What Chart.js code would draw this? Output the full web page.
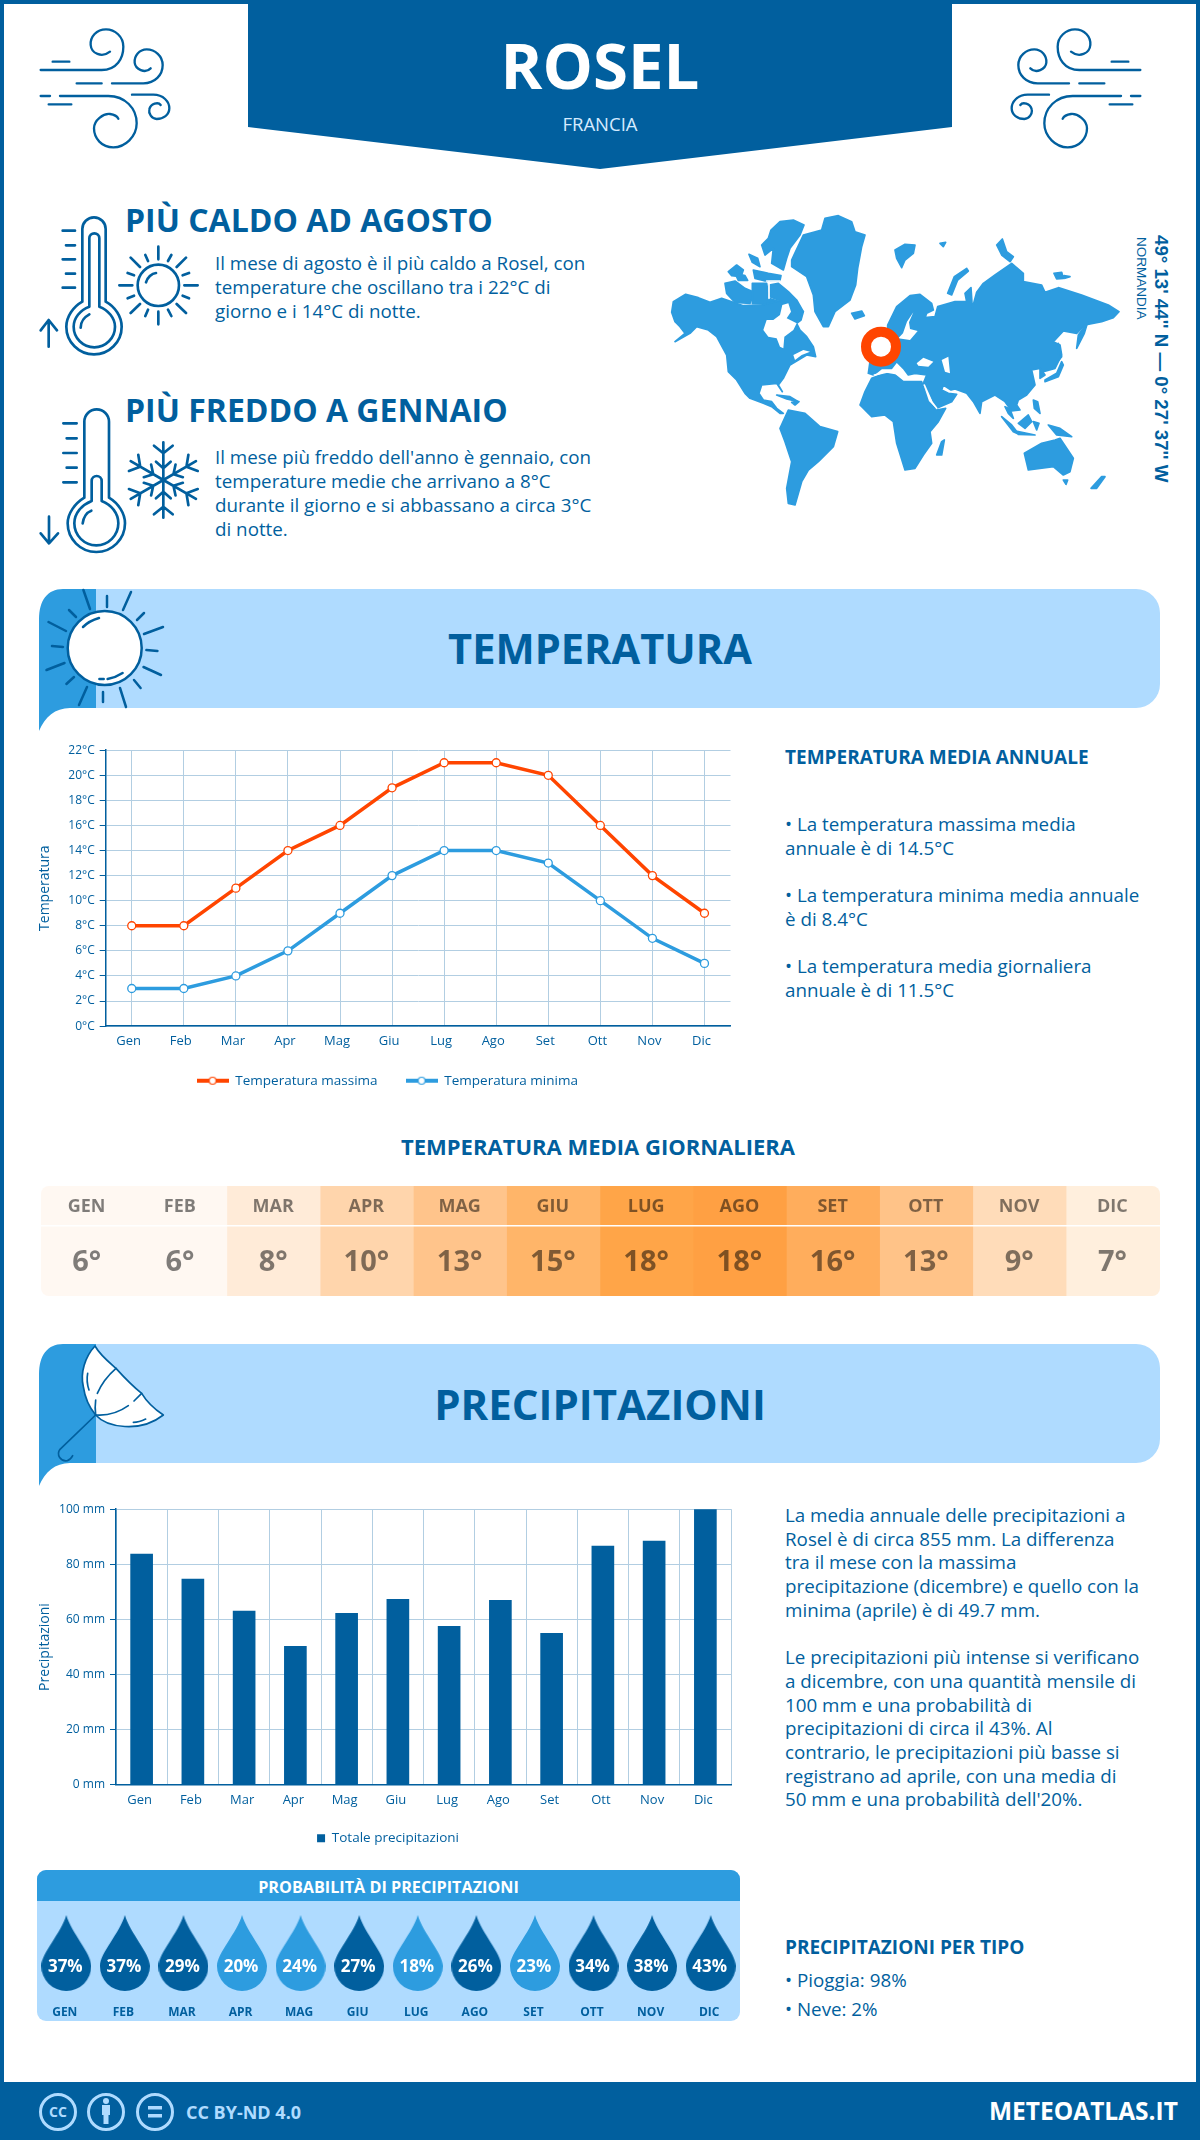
<!DOCTYPE html>
<html>
<head>
<meta charset="utf-8">
<title>Rosel</title>
<script src="https://cdn.jsdelivr.net/npm/chart.js@4"></script>
<style>
html, body { margin: 0; padding: 0; background: #fff; }
#page { position: relative; width: 1200px; height: 2140px; overflow: hidden; background: #fff; font-family: 'Open Sans', sans-serif; color: #015f9e; }
#frame { position: absolute; left: 0; top: 0; width: 1192px; height: 2132px; border: 4px solid #015f9e; }
.t { position: absolute; white-space: nowrap; }
.b { font-weight: 700; }
.c { transform: translateX(-50%); }
.p { position: absolute; left: 785px; font-size: 18.8px; line-height: 24px; white-space: nowrap; }
svg { position: absolute; overflow: visible; }
canvas { position: absolute; }
.line { fill: none; stroke: #015f9e; stroke-linecap: round; stroke-linejoin: round; }
</style>
</head>
<body>
<div id="page">
<div id="frame"></div>

<!-- header -->
<svg style="left:0;top:0" width="1200" height="180"><path d="M248,0 H952 V127 L600,169 L248,127 Z" fill="#015f9e"/></svg>
<div class="t b c" style="left:600px;top:20px;font-size:63.5px;line-height:90px;color:#fff">ROSEL</div>
<div class="t c" style="left:600px;top:110px;font-size:18.5px;line-height:28px;color:#d5ebff">FRANCIA</div>

<svg style="left:30px;top:20px" width="150" height="140" viewBox="0 0 450 420"><g id="wind" class="line" stroke-width="7">
<path d="M32,150 H215 C260,150 280,115 280,80 C280,50 255,28 228,28 C200,28 180,50 182,75 C184,100 215,115 240,95"/>
<path d="M68,125 H118 M140,190 H215"/>
<path d="M246,190 H340 C375,190 398,165 398,135 C398,108 375,88 350,88 C328,88 312,108 314,128 C316,148 345,162 362,145"/>
<path d="M32,228 H60 M56,253 H124"/>
<path d="M90,228 H235 C285,228 320,265 320,310 C320,350 285,382 250,382 C215,382 192,355 192,325 C192,300 220,280 240,282 C255,284 262,290 265,296"/>
<path d="M306,224 H370 C400,224 418,245 418,265 C418,285 400,297 380,297 C365,297 355,280 358,268 C362,250 385,245 392,255"/>
</g></svg>
<svg style="left:1001px;top:20px;transform:scaleX(-1)" width="150" height="140" viewBox="0 0 450 420"><use href="#wind"/></svg>

<!-- thermometers and small icons -->
<svg style="left:30px;top:205px" width="180" height="360" viewBox="0 0 540 1080"><g class="line" stroke-width="8">
<path d="M157,290 V72 A35,35 0 0 1 227,72 V290 C255,305 275,335 275,365 A83,83 0 1 1 109,365 C109,335 130,305 157,290 Z"/>
<path d="M178,305 V100 A15,15 0 0 1 208,100 V305 C235,315 255,340 255,365 A62,62 0 1 1 131,365 C131,340 150,315 178,305 Z"/>
<path d="M152,368 C152,350 165,335 178,328"/>
<path d="M98,77 H135 M108,121 H135 M98,163 H135 M108,206 H135 M98,248 H135"/>
<path d="M56,425 V345 M32,376 L56,345 L81,376"/>
<circle cx="385" cy="241" r="62"/>
<path d="M348,232 C352,218 365,205 378,204"/>
<path d="M385,125 V163 M385,320 V358 M268,241 H307 M463,241 H503 M302,158 L330,186 M468,158 L440,186 M302,324 L330,297 M468,324 L440,297"/>
<path d="M346,150 L354,168 M424,150 L414,168 M293,204 L312,211 M477,204 L458,211 M293,280 L312,272 M477,280 L458,272 M346,333 L354,314 M424,333 L414,314"/>
<path d="M163,878 V650 A37,37 0 0 1 237,650 V878 C265,895 285,925 285,955 A86,86 0 1 1 113,955 C113,925 135,895 163,878 Z"/>
<path d="M185,888 V828 A15,15 0 0 1 215,828 V888 C245,900 265,925 265,955 A66,66 0 1 1 133,955 C133,925 155,900 185,888 Z"/>
<path d="M158,955 C160,938 170,922 184,917"/>
<path d="M100,655 H140 M110,700 H140 M100,744 H140 M110,788 H140 M100,832 H140"/>
<path d="M57,935 V1015 M32,985 L57,1015 L84,985"/>
<g id="arm"><path d="M400,825 V712 M372,722 L400,745 L428,722 M378,770 L400,790 L422,770"/></g>
<use href="#arm" transform="rotate(60 400 825)"/><use href="#arm" transform="rotate(120 400 825)"/><use href="#arm" transform="rotate(180 400 825)"/><use href="#arm" transform="rotate(240 400 825)"/><use href="#arm" transform="rotate(300 400 825)"/>
</g></svg>

<div class="t b" style="left:125px;top:199px;font-size:32px;line-height:42px">PIÙ CALDO AD AGOSTO</div>
<div class="t" style="left:215px;top:251px;font-size:18.8px;line-height:24px">Il mese di agosto è il più caldo a Rosel, con<br>temperature che oscillano tra i 22°C di<br>giorno e i 14°C di notte.</div>
<div class="t b" style="left:125px;top:389px;font-size:32px;line-height:42px">PIÙ FREDDO A GENNAIO</div>
<div class="t" style="left:215px;top:445px;font-size:18.8px;line-height:24px">Il mese più freddo dell'anno è gennaio, con<br>temperature medie che arrivano a 8°C<br>durante il giorno e si abbassano a circa 3°C<br>di notte.</div>

<!-- world map -->
<svg style="left:665px;top:205px" width="460" height="310" viewBox="0 0 1380 930">
<g fill="#2d9cdf" stroke="#2d9cdf" stroke-width="5" stroke-linejoin="round">
<path d="M20,322 25,290 62,268 100,278 135,292 170,280 205,292 235,302 290,300 330,290 375,285 415,320 408,345 395,355 405,375 425,395 445,425 452,455 425,450 395,468 375,480 355,520 340,540 352,560 335,535 290,540 282,565 295,585 320,590 335,610 355,625 345,625 320,605 295,595 255,580 240,565 215,525 190,500 185,450 155,395 130,375 95,365 75,385 30,410 60,385 45,365 30,350 Z"/>
<path d="M312,240 340,235 370,260 395,285 415,320 400,332 370,298 340,285 315,275 Z"/>
<path d="M180,235 210,228 240,250 268,262 255,295 210,292 185,265 Z"/>
<path d="M262,235 305,235 312,280 338,288 300,298 262,296 Z"/>
<path d="M265,195 310,205 348,212 345,226 300,228 270,220 Z"/>
<path d="M290,120 310,100 318,75 345,50 385,45 417,60 405,90 375,130 365,160 355,195 320,175 325,130 300,150 Z"/>
<path d="M190,200 215,180 235,195 228,215 200,212 Z M252,148 278,160 285,185 262,172 Z M210,205 240,212 248,226 220,226 Z"/>
<path d="M380,165 415,90 470,75 480,40 520,32 560,50 570,80 600,90 590,125 578,190 572,240 555,285 510,320 490,365 475,365 450,320 445,270 425,215 380,185 Z"/>
<path d="M560,325 590,318 598,332 570,342 Z M690,135 720,118 750,120 745,145 720,165 710,188 695,160 Z M825,115 842,112 835,125 Z M995,120 1012,102 1025,140 1045,155 1035,170 1010,150 Z M1167,205 1190,202 1195,220 1175,222 Z M1197,212 1215,215 1200,220 Z"/>
<path d="M848,265 868,215 905,190 910,198 878,225 860,270 Z"/>
<path d="M668,360 695,305 735,272 765,268 800,295 805,315 785,325 780,338 810,335 818,305 870,290 905,290 900,265 918,248 922,310 935,262 955,235 990,210 1040,175 1075,205 1075,230 1130,240 1140,262 1180,248 1250,270 1290,285 1330,300 1362,320 1345,338 1310,350 1260,360 1235,385 1195,378 1165,410 1185,420 1190,450 1170,490 1135,500 1125,490 1100,495 1110,540 1085,570 1060,585 1055,600 1065,615 1040,618 1020,590 990,570 950,590 945,625 925,590 905,565 870,552 858,555 835,540 830,555 850,565 875,568 860,590 815,610 800,580 775,535 785,510 750,505 730,510 715,490 695,470 680,490 650,490 625,510 610,505 615,470 640,420 668,400 Z"/>
<path d="M1235,430 1240,390 1268,352 1258,385 Z M1140,525 1175,505 1190,470 1195,480 1180,515 1140,530 Z M1180,415 1190,455 1182,465 Z M1125,490 1140,510 1125,520 Z"/>
<path d="M1020,605 1035,612 1045,640 1030,625 Z M1010,635 1040,660 1062,688 1045,680 Z M1050,678 1110,690 1060,688 Z M1060,655 1090,630 1100,650 1080,670 Z M1105,650 1122,655 1115,675 Z M1105,585 1118,590 1125,625 1108,610 Z M1150,660 1185,670 1220,695 1175,690 Z"/>
<path d="M585,600 600,560 620,520 660,505 690,510 715,530 770,530 790,590 815,615 842,610 820,650 795,680 800,715 775,750 750,790 720,795 695,715 685,650 660,630 620,635 Z"/>
<path d="M815,750 830,710 838,705 830,750 Z"/>
<path d="M345,670 370,615 420,625 465,665 518,680 505,725 460,770 430,795 410,830 390,900 370,895 365,850 380,770 360,710 Z"/>
<path d="M1078,745 1130,715 1170,705 1185,700 1225,760 1215,800 1195,810 1165,785 1090,795 Z M1195,825 1208,825 1203,838 Z M1278,850 1310,815 1320,815 1295,850 Z"/>
<path d="M335,570 375,575 400,590 365,582 Z M380,592 402,590 390,600 Z"/>
</g>
<g fill="#fff">
<path d="M295,375 305,345 325,345 345,330 352,300 370,295 378,320 365,340 395,355 385,375 358,395 355,430 345,425 335,400 310,395 Z"/>
<path d="M745,322 726,350 714,385 700,400 735,405 758,378 735,372 732,352 Z"/>
<path d="M755,475 775,458 805,470 790,485 760,482 Z M830,465 850,455 855,505 840,500 Z"/>
<path d="M385,450 415,435 435,440 410,450 390,465 Z"/>
</g>
<g fill="none" stroke="#fff" stroke-width="5" stroke-linecap="round">
<path d="M778,540 L800,590 L815,610"/>
<path d="M628,510 L680,498 L720,520 L775,522"/>
<path d="M305,228 H345 M312,232 V280"/>
</g>
<circle cx="648" cy="425" r="45" fill="#fff" stroke="#ff4500" stroke-width="30"/>
</svg>
<div class="t b" style="left:1150px;top:235px;writing-mode:vertical-rl;font-family:'Liberation Sans';font-size:18.7px;line-height:22px">49° 13' 44'' N — 0° 27' 37'' W</div>
<div class="t" style="left:1134px;top:237px;writing-mode:vertical-rl;font-family:'Liberation Sans';font-size:13.5px;line-height:15px">NORMANDIA</div>

<!-- temperatura band -->
<svg style="left:0;top:589px" width="1200" height="145">
<path d="M90,0 H1136 A24,24 0 0 1 1160,24 V95 A24,24 0 0 1 1136,119 H90 Z" fill="#afdbff"/>
<path d="M96,0 H63 C47,0 39,12 39,30 V142 C45,128 55,119 70,119 H96 Z" fill="#2d9cdf"/>
<g class="line" stroke-width="2.5">
<circle cx="104.7" cy="59" r="37" fill="#fff"/>
<path d="M83.4,1 L90,20 M131,3 L123,21 M163,38 L144,45 M161,86 L143.5,78 M126,118 L120,99 M79,116 L87,98 M46.5,81 L64.5,74 M48.5,33 L66,42"/>
<path d="M107,7 V18 M144,24 L137,31 M146.4,61 L157.5,62 M134,91 L140.6,99 M103,103 V113 M74,88 L66.4,95 M52,57 L63,58 M69,21 L76,28"/>
<path d="M83,38 C87,34 92,31 99,29 M107.6,90 C113,89 118,87 122.6,84 M99.4,90 L103.7,90"/>
</g></svg>
<div class="t b c" style="left:600px;top:620px;font-size:41.6px;line-height:56px">TEMPERATURA</div>

<canvas id="tempChart" style="left:30px;top:738px" width="729" height="364"></canvas>

<div class="t b" style="left:785px;top:743px;font-size:19px;line-height:28px">TEMPERATURA MEDIA ANNUALE</div>
<div class="p" style="top:812px">• La temperatura massima media<br>annuale è di 14.5°C</div>
<div class="p" style="top:883px">• La temperatura minima media annuale<br>è di 8.4°C</div>
<div class="p" style="top:954px">• La temperatura media giornaliera<br>annuale è di 11.5°C</div>

<div class="t b c" style="left:598px;top:1130px;font-size:22px;line-height:32px">TEMPERATURA MEDIA GIORNALIERA</div>
<div style="position:absolute;left:41px;top:1186px;width:1119px;height:110px;border-radius:8px;overflow:hidden"><canvas id="heatChart" style="left:0;top:0" width="1119" height="110"></canvas></div>

<!-- precipitazioni band -->
<svg style="left:0;top:1344px" width="1200" height="145">
<path d="M90,0 H1136 A24,24 0 0 1 1160,24 V95 A24,24 0 0 1 1136,119 H90 Z" fill="#afdbff"/>
<path d="M96,0 H63 C47,0 39,12 39,30 V142 C45,128 55,119 70,119 H96 Z" fill="#2d9cdf"/>
</svg>
<svg style="left:30px;top:1340px" width="150" height="160" viewBox="0 0 450 480"><g class="line" stroke-width="5">
<path style="fill:#fff" d="M195,18 C165,50 150,100 160,140 C165,175 180,205 197,225 C230,262 330,280 400,225 C370,205 350,185 335,160 C310,140 285,115 258,85 C235,65 210,45 195,18 Z"/>
<path d="M258,85 C235,105 215,130 202,160 M173,100 C170,115 172,135 177,150 M197,180 C195,195 195,210 197,225 M197,225 C235,228 270,215 295,197 M312,183 L335,160 M310,247 C325,247 335,243 347,237"/>
<path d="M197,225 L90,328 C78,345 92,365 112,362 C120,360 125,353 128,347"/>
</g></svg>
<div class="t b c" style="left:600px;top:1376px;font-size:42px;line-height:56px">PRECIPITAZIONI</div>

<canvas id="rainChart" style="left:30px;top:1497px" width="731" height="358"></canvas>

<div class="p" style="top:1504px;line-height:23.7px">La media annuale delle precipitazioni a<br>Rosel è di circa 855 mm. La differenza<br>tra il mese con la massima<br>precipitazione (dicembre) e quello con la<br>minima (aprile) è di 49.7 mm.<br><br>Le precipitazioni più intense si verificano<br>a dicembre, con una quantità mensile di<br>100 mm e una probabilità di<br>precipitazioni di circa il 43%. Al<br>contrario, le precipitazioni più basse si<br>registrano ad aprile, con una media di<br>50 mm e una probabilità dell'20%.</div>

<div style="position:absolute;left:37px;top:1870px;width:703px;height:151px;border-radius:9px;background:#afdbff;overflow:hidden"><div class="b" style="height:31px;line-height:34px;background:#2d9cdf;color:#fff;text-align:center;font-size:16.2px">PROBABILITÀ DI PRECIPITAZIONI</div></div>
<canvas id="probChart" style="left:37px;top:1911px" width="703" height="110"></canvas>

<div class="t b" style="left:785px;top:1933px;font-size:19px;line-height:28px">PRECIPITAZIONI PER TIPO</div>
<div class="p" style="top:1966px;line-height:29px">• Pioggia: 98%<br>• Neve: 2%</div>

<!-- footer -->
<div style="position:absolute;left:0;top:2082px;width:1200px;height:58px;background:#015f9e"></div>
<svg style="left:0;top:2082px" width="300" height="58"><g fill="none" stroke="#afdbff" stroke-width="3">
<circle cx="58" cy="30" r="17.5"/><circle cx="106" cy="30" r="17.5"/><circle cx="155" cy="30" r="17.5"/></g>
<g fill="#afdbff"><text x="58" y="35" text-anchor="middle" font-size="14" font-weight="700">CC</text>
<circle cx="106" cy="19" r="3"/><rect x="102" y="23" width="8" height="10"/><rect x="103.5" y="33" width="5" height="9"/>
<rect x="148" y="24" width="14" height="3.5"/><rect x="148" y="32" width="14" height="3.5"/></g></svg>
<div class="t b" style="left:186px;top:2098px;font-size:18px;line-height:28px;color:#afdbff">CC BY-ND 4.0</div>
<div class="t b" style="left:989px;top:2094px;font-size:24.5px;line-height:34px;color:#fff">METEOATLAS.IT</div>
</div>

<script>
const months = ['Gen', 'Feb', 'Mar', 'Apr', 'Mag', 'Giu', 'Lug', 'Ago', 'Set', 'Ott', 'Nov', 'Dic'];
const monthsUpper = ['GEN', 'FEB', 'MAR', 'APR', 'MAG', 'GIU', 'LUG', 'AGO', 'SET', 'OTT', 'NOV', 'DIC'];
const tempMax = [8, 8, 11, 14, 16, 19, 21, 21, 20, 16, 12, 9];
const tempMin = [3, 3, 4, 6, 9, 12, 14, 14, 13, 10, 7, 5];
const dailyMean = [6, 6, 8, 10, 13, 15, 18, 18, 16, 13, 9, 7];
const rainTotal = [83.7, 74.6, 63.0, 50.2, 62.2, 67.3, 57.5, 66.9, 55.0, 86.6, 88.4, 100];
const rainProb = [37, 37, 29, 20, 24, 27, 18, 26, 23, 34, 38, 43];

const heatColors = ['#fff8f2', '#fff8f2', '#ffebd8', '#ffd5ac', '#ffc48b', '#ffb569', '#ffa548', '#ffa043', '#ffad5c', '#ffc388', '#ffdcb9', '#ffefdd'];

const DARK = '#015f9e';
const LIGHT = '#2d9cdf';
const RED = '#ff4500';
const GRID = '#b2cee2';
const FONT = "'Open Sans'";

Chart.defaults.font.family = FONT;
Chart.defaults.color = DARK;
Chart.defaults.animation = false;
Chart.defaults.responsive = false;

function legendIcon(color) {
    const c = document.createElement('canvas');
    c.width = 32;
    c.height = 12;
    const ctx = c.getContext('2d');
    ctx.fillStyle = color;
    ctx.fillRect(0, 4, 32, 4);
    ctx.beginPath();
    ctx.arc(16, 6, 3.5, 0, Math.PI * 2);
    ctx.fillStyle = '#fff';
    ctx.fill();
    ctx.lineWidth = 1.2;
    ctx.strokeStyle = color;
    ctx.stroke();
    return c;
}

function dropIcon(color) {
    const c = document.createElement('canvas');
    c.width = 50;
    c.height = 76;
    const ctx = c.getContext('2d');
    ctx.beginPath();
    ctx.moveTo(25, 0);
    ctx.bezierCurveTo(30, 18, 50, 38, 50, 51);
    ctx.arc(25, 51, 25, 0, Math.PI);
    ctx.bezierCurveTo(0, 38, 20, 18, 25, 0);
    ctx.fillStyle = color;
    ctx.fill();
    return c;
}

// the legend box follows the padded width, so move it after layout
function nudgeLegend(dx, dy) {
    return {
        id: 'nudgeLegend',
        afterLayout(chart) {
            chart.legend.left += dx;
            chart.legend.right += dx;
            chart.legend.top += dy;
            chart.legend.bottom += dy;
        }
    };
}

new Chart(document.getElementById('tempChart'), {
    type: 'line',
    data: {
        labels: months,
        datasets: [
            { label: 'Temperatura massima', data: tempMax, borderColor: RED, backgroundColor: '#fff', pointBorderColor: RED },
            { label: 'Temperatura minima', data: tempMin, borderColor: LIGHT, backgroundColor: '#fff', pointBorderColor: LIGHT }
        ]
    },
    options: {
        layout: { autoPadding: false, padding: { right: 28.5 } },
        elements: {
            line: { borderWidth: 3.5, tension: 0 },
            point: { radius: 4, borderWidth: 1.3, pointStyle: 'circle' }
        },
        plugins: {
            tooltip: { enabled: false },
            legend: {
                position: 'bottom',
                labels: {
                    usePointStyle: true,
                    pointStyleWidth: 32,
                    padding: 28,
                    font: { size: 13.5 },
                    generateLabels(chart) {
                        const items = Chart.defaults.plugins.legend.labels.generateLabels(chart);
                        items[0].pointStyle = legendIcon(RED);
                        items[1].pointStyle = legendIcon(LIGHT);
                        return items;
                    }
                }
            }
        },
        scales: {
            x: {
                offset: true,
                afterFit(scale) { scale.height = 24.4; },
                border: { color: DARK, width: 1.5 },
                grid: { color: GRID, offset: false, drawTicks: false },
                ticks: { padding: 7, labelOffset: -3, maxRotation: 0, autoSkip: false, font: { size: 13 } }
            },
            y: {
                min: 0,
                max: 22,
                afterFit(scale) { scale.width = 75.7; },
                title: { display: true, text: 'Temperatura', color: DARK, padding: { top: 7, bottom: 0 }, font: { size: 14 } },
                border: { color: DARK, width: 1.5 },
                grid: { color: GRID, tickColor: DARK, tickLength: 6 },
                ticks: { stepSize: 2, padding: 5, font: { size: 12 }, callback: v => v + '°C' }
            }
        }
    },
    plugins: [nudgeLegend(7, -4.5)]
});

new Chart(document.getElementById('rainChart'), {
    type: 'bar',
    data: {
        labels: months,
        datasets: [{ label: 'Totale precipitazioni', data: rainTotal, backgroundColor: DARK, barThickness: 22 }]
    },
    options: {
        layout: { padding: { right: 30 } },
        plugins: {
            tooltip: { enabled: false },
            legend: { position: 'bottom', labels: { boxWidth: 8, boxHeight: 8, padding: 10, font: { size: 13.5 } } }
        },
        scales: {
            x: {
                afterFit(scale) { scale.height = 36.7; },
                border: { color: DARK, width: 1.5 },
                grid: { color: ctx => (ctx.index === 12 ? 'transparent' : GRID), drawTicks: false },
                ticks: { padding: 8, labelOffset: -2, maxRotation: 0, autoSkip: false, font: { size: 13 } }
            },
            y: {
                min: 0,
                max: 100,
                afterFit(scale) { scale.width = 86; },
                title: { display: true, text: 'Precipitazioni', color: DARK, padding: { top: 7, bottom: 0 }, font: { size: 14 } },
                border: { color: DARK, width: 1.5 },
                grid: { color: GRID, tickColor: DARK, tickLength: 6 },
                ticks: { stepSize: 20, padding: 5, font: { size: 12 }, callback: v => v + ' mm' }
            }
        }
    },
    plugins: [nudgeLegend(7.5, 0)]
});

// month name and value sit inside each heat cell
const heatLabels = {
    id: 'heatLabels',
    afterDatasetsDraw(chart) {
        const ctx = chart.ctx;
        ctx.save();
        ctx.fillStyle = '#fff';
        ctx.fillRect(0, 39, chart.width, 1.5);
        ctx.textAlign = 'center';
        ctx.textBaseline = 'middle';
        ctx.fillStyle = 'rgba(0, 0, 0, 0.5)';
        chart.getDatasetMeta(0).data.forEach((bar, i) => {
            ctx.font = '700 18px ' + FONT;
            ctx.fillText(monthsUpper[i], bar.x - 1, 21);
            ctx.font = '700 29px ' + FONT;
            ctx.fillText(dailyMean[i] + '°', bar.x - 1, 77);
        });
        ctx.restore();
    }
};

new Chart(document.getElementById('heatChart'), {
    type: 'bar',
    data: {
        labels: monthsUpper,
        datasets: [{
            data: dailyMean.map(() => 1),
            backgroundColor: heatColors,
            barPercentage: 1,
            categoryPercentage: 1
        }]
    },
    options: {
        plugins: { legend: { display: false }, tooltip: { enabled: false } },
        scales: {
            x: { display: false },
            y: { display: false, min: 0, max: 1 }
        }
    },
    plugins: [heatLabels]
});

// percent text on top of each drop
const dropLabels = {
    id: 'dropLabels',
    afterDatasetsDraw(chart) {
        const ctx = chart.ctx;
        ctx.save();
        ctx.textAlign = 'center';
        ctx.textBaseline = 'middle';
        ctx.fillStyle = '#fff';
        ctx.font = '700 17px ' + FONT;
        chart.getDatasetMeta(0).data.forEach((pt, i) => {
            ctx.fillText(rainProb[i] + '%', pt.x - 1, pt.y + 14);
        });
        ctx.restore();
    }
};

const darkDrop = dropIcon(DARK);
const lightDrop = dropIcon(LIGHT);

new Chart(document.getElementById('probChart'), {
    type: 'line',
    data: {
        labels: monthsUpper,
        datasets: [{
            data: rainProb.map(() => 0),
            showLine: false,
            clip: false,
            pointStyle: rainProb.map(p => (p > 25 ? darkDrop : lightDrop))
        }]
    },
    options: {
        layout: { autoPadding: false },
        plugins: { legend: { display: false }, tooltip: { enabled: false } },
        scales: {
            x: {
                offset: true,
                afterFit(scale) { scale.height = 26; },
                border: { display: false },
                grid: { display: false },
                ticks: { padding: 2, labelOffset: -1.5, maxRotation: 0, autoSkip: false, font: { size: 12, weight: 700 } }
            },
            y: { display: false, min: -1, max: 1 }
        }
    },
    plugins: [dropLabels]
});
</script>
</body>
</html>
